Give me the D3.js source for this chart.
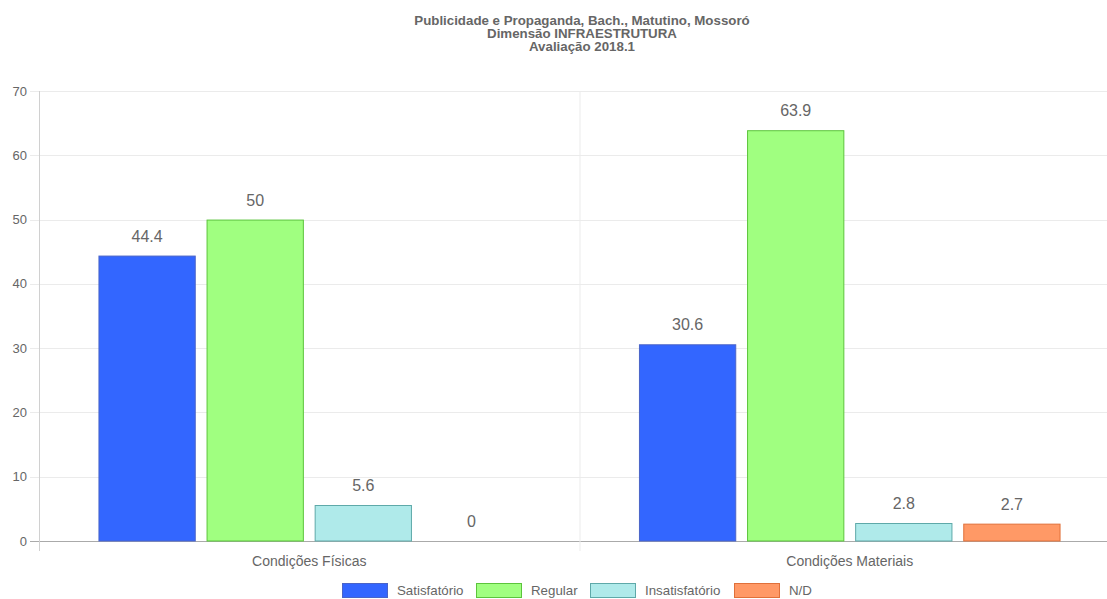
<!DOCTYPE html>
<html><head><meta charset="utf-8">
<script src="https://cdn.jsdelivr.net/npm/d3@7"></script>
<style>body{margin:0;background:#fff;}svg{display:block;font-family:"Liberation Sans",Arial,sans-serif;}</style>
</head><body><svg id="c" width="1107" height="599"></svg>
<script>
const titleLines = ["Publicidade e Propaganda, Bach., Matutino, Mossoró","Dimensão INFRAESTRUTURA","Avaliação 2018.1"];
const categories = ["Condições Físicas","Condições Materiais"];
const seriesNames = ["Satisfatório","Regular","Insatisfatório","N/D"];
const satisfatorio = [44.4, 30.6];
const regular = [50, 63.9];
const insatisfatorio = [5.6, 2.8];
const nd = [0, 2.7];
const yTicks = [0,10,20,30,40,50,60,70];
const fills = ["#3366ff","#a0ff80","#afeaea","#ff9966"];
const strokes = ["#4a64c8","#5cc43c","#5ea9a9","#e0703a"];

const series = [satisfatorio, regular, insatisfatorio, nd];
const svg = d3.select("#c");
const pLeft = 39, pRight = 1120, pTop = 91, pBottom = 541;
const x = d3.scaleBand().domain(categories).range([pLeft, pRight]);
const y = d3.scaleLinear().domain([0,70]).range([pBottom, pTop]);
const inner = d3.scaleBand().domain(seriesNames).range([0, x.bandwidth()*0.8]).paddingInner(0.1).paddingOuter(0.05);

// title
svg.append("g").selectAll("text").data(titleLines).join("text")
  .attr("x", 582).attr("y", (d,i)=>25+i*13).attr("text-anchor","middle")
  .attr("font-size",13.3).attr("font-weight","bold").attr("fill","#666").text(d=>d);

// horizontal grid
svg.append("g").selectAll("line").data(yTicks).join("line")
  .attr("x1", 30).attr("x2", 1107).attr("y1", d=>Math.round(y(d))+0.5).attr("y2", d=>Math.round(y(d))+0.5)
  .attr("stroke", d=> d===0 ? "#aaa" : "#ebebeb").attr("stroke-width",1);
// vertical grid lines
const vx = [pLeft, pLeft + x.bandwidth()];
svg.append("g").selectAll("line").data(vx).join("line")
  .attr("x1", d=>d+0.5).attr("x2", d=>d+0.5).attr("y1", pTop).attr("y2", pBottom+10)
  .attr("stroke", (d,i)=> i===0 ? "#d0d0d0" : "#ebebeb");

// y tick labels
svg.append("g").selectAll("text").data(yTicks).join("text")
  .attr("x", 27).attr("y", d=>y(d)+4.5).attr("text-anchor","end")
  .attr("font-size",13).attr("fill","#666").text(d=>d);

// x labels
svg.append("g").selectAll("text").data(categories).join("text")
  .attr("x", d=>x(d)+x.bandwidth()/2).attr("y", 566).attr("text-anchor","middle")
  .attr("font-size",14).attr("fill","#666").text(d=>d);

// bars
const off = x.bandwidth()*0.1;
series.forEach((vals, si) => {
  const g = svg.append("g");
  categories.forEach((c, ci) => {
    const v = vals[ci];
    const bx = x(c) + off + inner(seriesNames[si]);
    const bw = inner.bandwidth();
    if (v > 0) {
      g.append("rect").attr("x", bx+0.5).attr("y", y(v)+0.5).attr("width", bw-1).attr("height", y(0)-y(v)-0.5)
        .attr("fill", fills[si]).attr("stroke", strokes[si]).attr("stroke-width",1);
    }
    g.append("text").attr("x", bx + bw/2).attr("y", y(v)-14).attr("text-anchor","middle")
      .attr("font-size",16).attr("fill","#666").text(v);
  });
});

// legend
const legX = [342, 476, 590, 734];
const lg = svg.append("g");
seriesNames.forEach((n,i)=>{
  lg.append("rect").attr("x", legX[i]+0.5).attr("y", 583.5).attr("width", 45).attr("height", 14)
    .attr("fill", fills[i]).attr("stroke", strokes[i]);
  lg.append("text").attr("x", legX[i]+55).attr("y", 595).attr("font-size",13.3).attr("fill","#666").text(n);
});
</script></body></html>
